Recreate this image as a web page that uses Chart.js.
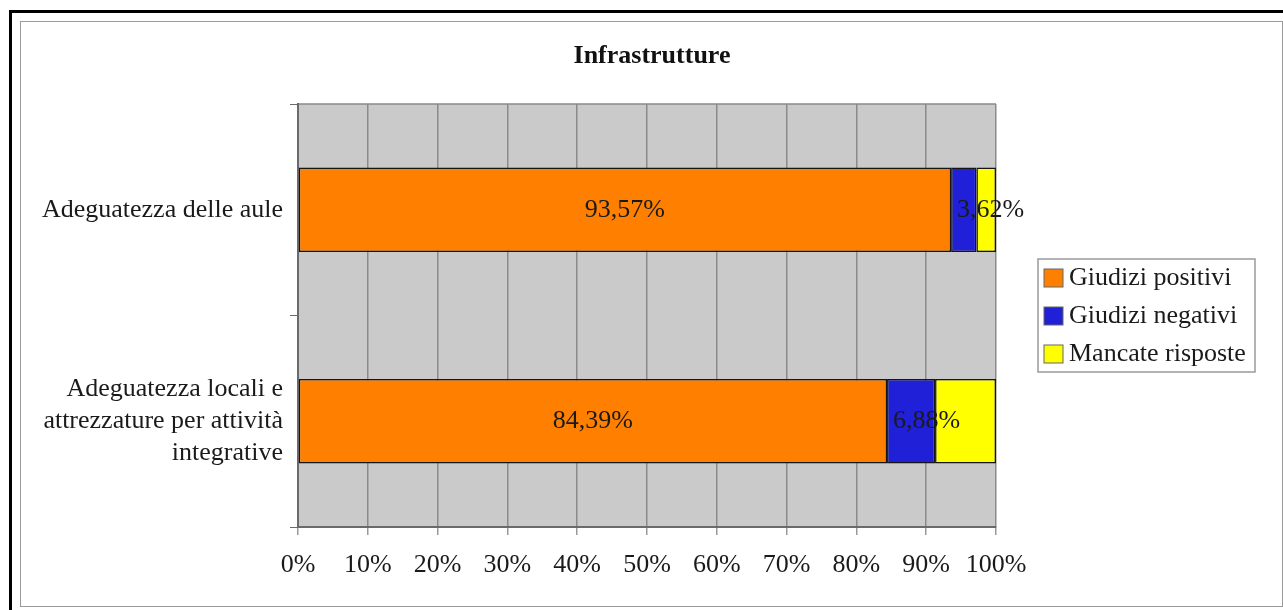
<!DOCTYPE html>
<html>
<head>
<meta charset="utf-8">
<script src="https://cdn.jsdelivr.net/npm/chart.js@4"></script>
<style>
  body{ margin:0; background:#ffffff; }
  #wrap{ position:relative; width:1283px; height:610px; }
  #outer{ position:absolute; left:9px; top:10px; right:0; bottom:0;
          border-left:3px solid #000; border-top:3px solid #000; }
  #inner{ position:absolute; left:20px; top:21px; width:1261px; height:584px;
          border:1px solid #9a9a9a; }
  #chart{ position:absolute; left:0; top:0; }
</style>
</head>
<body>
<div id="wrap">
  <div id="outer"></div>
  <div id="inner"></div>
  <canvas id="chart" width="1283" height="610"></canvas>
</div>
<script>
//======================================================
// DATA
//======================================================

const chartTitle = "Infrastrutture";

const categories = [
    "Adeguatezza delle aule",
    ["Adeguatezza locali e", "attrezzature per attività", "integrative"]
];

const seriesNames = ["Giudizi positivi", "Giudizi negativi", "Mancate risposte"];

const positivi = [93.57, 84.39];
const negativi = [3.62, 6.88];
const mancate  = [2.81, 8.73];

const xTicks = [0, 10, 20, 30, 40, 50, 60, 70, 80, 90, 100];

const seriesColors = ["#ff8000", "#2020d8", "#ffff00"];

const FONT = "'Liberation Serif', 'Times New Roman', serif";

//======================================================
// PLUGINS
//======================================================

// gray plot area with a top edge, plus the title
const plotBackground = {
    id:"plotBackground",
    beforeDraw(chart){
        const a = chart.chartArea;
        const ctx = chart.ctx;
        ctx.save();
        ctx.fillStyle = "#cacaca";
        ctx.fillRect(a.left, a.top, a.right - a.left, a.bottom - a.top);
        ctx.strokeStyle = "#8a8a8a";
        ctx.lineWidth = 1.5;
        ctx.beginPath();
        ctx.moveTo(a.left, a.top);
        ctx.lineTo(a.right, a.top);
        ctx.stroke();

        ctx.font = "bold 26px " + FONT;
        ctx.fillStyle = "#111";
        ctx.textAlign = "center";
        ctx.textBaseline = "middle";
        ctx.fillText(chartTitle, 652, 56);
        ctx.restore();
    }
};

// value labels: orange centered, blue starting at the segment's left edge
const valueLabels = {
    id:"valueLabels",
    afterDatasetsDraw(chart){
        const ctx = chart.ctx;
        ctx.save();
        ctx.font = "26px " + FONT;
        ctx.fillStyle = "#1a1a1a";
        ctx.textBaseline = "middle";
        [0, 1].forEach(function(di){
            const meta = chart.getDatasetMeta(di);
            meta.data.forEach(function(bar, i){
                const v = chart.data.datasets[di].data[i];
                const txt = v.toFixed(2).replace(".", ",") + "%";
                if(di === 0){
                    ctx.textAlign = "center";
                    ctx.fillText(txt, (bar.base + bar.x) / 2, bar.y);
                }
                else{
                    ctx.textAlign = "left";
                    ctx.fillText(txt, bar.base + 6, bar.y);
                }
            });
        });
        ctx.restore();
    }
};

// boxed legend on the right
const boxLegend = {
    id:"boxLegend",
    afterDraw(chart){
        const ctx = chart.ctx;
        const x = 1038, y = 259, w = 217, h = 113;
        ctx.save();
        ctx.fillStyle = "#ffffff";
        ctx.fillRect(x, y, w, h);
        ctx.strokeStyle = "#9a9a9a";
        ctx.lineWidth = 1.5;
        ctx.strokeRect(x, y, w, h);
        ctx.font = "26px " + FONT;
        ctx.textBaseline = "middle";
        ctx.textAlign = "left";
        chart.data.datasets.forEach(function(ds, i){
            const cy = y + 19 + i * 38;
            ctx.fillStyle = ds.backgroundColor;
            ctx.fillRect(x + 6, cy - 9, 19, 18);
            ctx.strokeStyle = "#666";
            ctx.lineWidth = 1;
            ctx.strokeRect(x + 6, cy - 9, 19, 18);
            ctx.fillStyle = "#1a1a1a";
            ctx.fillText(ds.label, x + 31, cy);
        });
        ctx.restore();
    }
};

//======================================================
// CHART
//======================================================

function makeDataset(label, data, color){
    return {
        label:label,
        data:data,
        backgroundColor:color,
        borderColor:"#151515",
        borderWidth:1.5,
        borderSkipped:false,
        barPercentage:0.4,
        categoryPercentage:1
    };
}

new Chart(document.getElementById("chart"), {

    type:"bar",

    data:{
        labels:categories,
        datasets:[
            makeDataset(seriesNames[0], positivi, seriesColors[0]),
            makeDataset(seriesNames[1], negativi, seriesColors[1]),
            makeDataset(seriesNames[2], mancate, seriesColors[2])
        ]
    },

    options:{

        indexAxis:"y",

        responsive:false,

        animation:false,

        layout:{
            padding:{ left:0, right:287, top:104, bottom:0 }
        },

        plugins:{
            legend:{ display:false },
            tooltip:{ enabled:false },
            title:{ display:false }
        },

        scales:{

            x:{
                stacked:true,
                min:0,
                max:100,
                afterBuildTicks(scale){
                    scale.ticks = xTicks.map(function(v){ return { value:v }; });
                },
                afterFit(scale){
                    scale.height = 83;
                },
                ticks:{
                    color:"#1a1a1a",
                    font:{ family:FONT, size:26 },
                    padding:15,
                    maxRotation:0,
                    callback:function(v){ return v + "%"; }
                },
                grid:{
                    color:"#8a8a8a",
                    lineWidth:1.5,
                    tickLength:8,
                    tickColor:"#9a9a9a"
                },
                border:{ color:"#6a6a6a", width:2 }
            },

            y:{
                stacked:true,
                afterFit(scale){
                    scale.width = 298;
                },
                ticks:{
                    color:"#1a1a1a",
                    font:{ family:FONT, size:26, lineHeight:1.23 },
                    padding:7
                },
                grid:{
                    offset:true,
                    drawOnChartArea:false,
                    tickLength:8,
                    color:"#6a6a6a"
                },
                border:{ color:"#6a6a6a", width:2 }
            }

        }

    },

    plugins:[plotBackground, valueLabels, boxLegend]

});
</script>
</body>
</html>
